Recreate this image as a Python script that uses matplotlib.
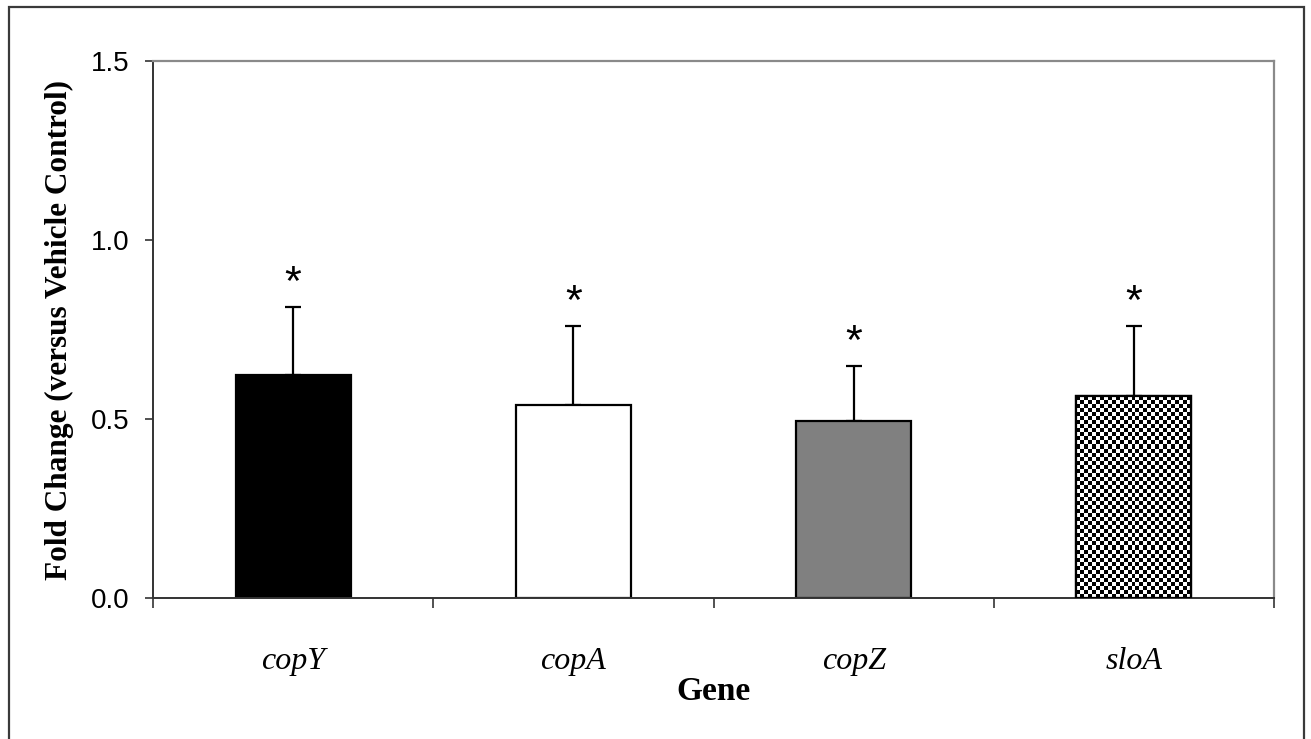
import numpy as np
import matplotlib.pyplot as plt
from matplotlib.patches import Rectangle

# data
genes = ['copY', 'copA', 'copZ', 'sloA']
fold_change = [0.623, 0.539, 0.494, 0.564]
err_upper = [0.190, 0.221, 0.154, 0.196]
signif = ['*', '*', '*', '*']

face_colors = ['black', 'white', '#808080', 'white']

fig = plt.figure(figsize=(13.11, 7.39), dpi=100)
ax = fig.add_axes([153 / 1311, 1 - 598 / 739, (1274 - 153) / 1311, (598 - 61) / 739])

# outer frame around the whole figure (open at the bottom)
fig.patches.append(Rectangle((9 / 1311, -0.05), (1304 - 9) / 1311, 1.05 - 7 / 739,
                             transform=fig.transFigure, fill=False,
                             edgecolor='#3a3a3a', linewidth=1.6))

x = np.arange(len(genes))
width = 0.41
bars = ax.bar(x, fold_change, width, color=face_colors, edgecolor='black',
              linewidth=1.6, zorder=2)
ax.errorbar(x, fold_change, yerr=[np.zeros(len(x)), err_upper], fmt='none',
            ecolor='black', elinewidth=1.6, capsize=6, capthick=1.6, zorder=1)

# checkerboard fill for the last bar
b = bars[3]
bx, by, bw, bh = b.get_x(), b.get_y(), b.get_width(), b.get_height()
nx = 29
ny = int(round(bh * 358 / 4))
checker = (np.indices((ny, nx)).sum(axis=0) % 2).astype(float)
im = ax.imshow(checker, cmap='gray', extent=(bx, bx + bw, by, by + bh),
               interpolation='nearest', aspect='auto', zorder=2.5)
im.set_clip_path(b)
ax.add_patch(Rectangle((bx, by), bw, bh, fill=False, edgecolor='black',
                       linewidth=1.6, zorder=3))

# significance stars
for xi, v, e, s in zip(x, fold_change, err_upper, signif):
    ax.annotate(s, xy=(xi, v + e), xytext=(0, 2), textcoords='offset points',
                ha='center', va='bottom', fontsize=31, family='Liberation Sans')

ax.set_xlim(-0.5, 3.5)
ax.set_ylim(0, 1.5)
ax.set_yticks([0, 0.5, 1.0, 1.5])
ax.set_yticklabels(['0.0', '0.5', '1.0', '1.5'], family='Liberation Sans', fontsize=20)
ax.tick_params(axis='y', direction='out', length=6, width=1.2, pad=11, color='#333333')

# boundary ticks as major, gene names as minor labels
ax.set_xticks(np.arange(-0.5, 4, 1.0))
ax.set_xticklabels([])
ax.tick_params(axis='x', which='major', direction='out', length=7, width=1.2, color='#333333')
ax.set_xticks(x, minor=True)
ax.set_xticklabels(genes, minor=True, family='Liberation Serif', style='italic', fontsize=23)
ax.tick_params(axis='x', which='minor', length=0, pad=35)

ax.set_xlabel('Gene', family='Liberation Serif', fontweight='bold', fontsize=24, labelpad=0)
ax.set_ylabel('Fold Change (versus Vehicle Control)', family='Liberation Serif',
              fontweight='bold', fontsize=22.5, labelpad=12)

for side in ['left', 'bottom']:
    ax.spines[side].set_color('#333333')
    ax.spines[side].set_linewidth(1.4)
for side in ['top', 'right']:
    ax.spines[side].set_color('#8a8a8a')
    ax.spines[side].set_linewidth(1.6)

fig.savefig('out.png', dpi=100)
